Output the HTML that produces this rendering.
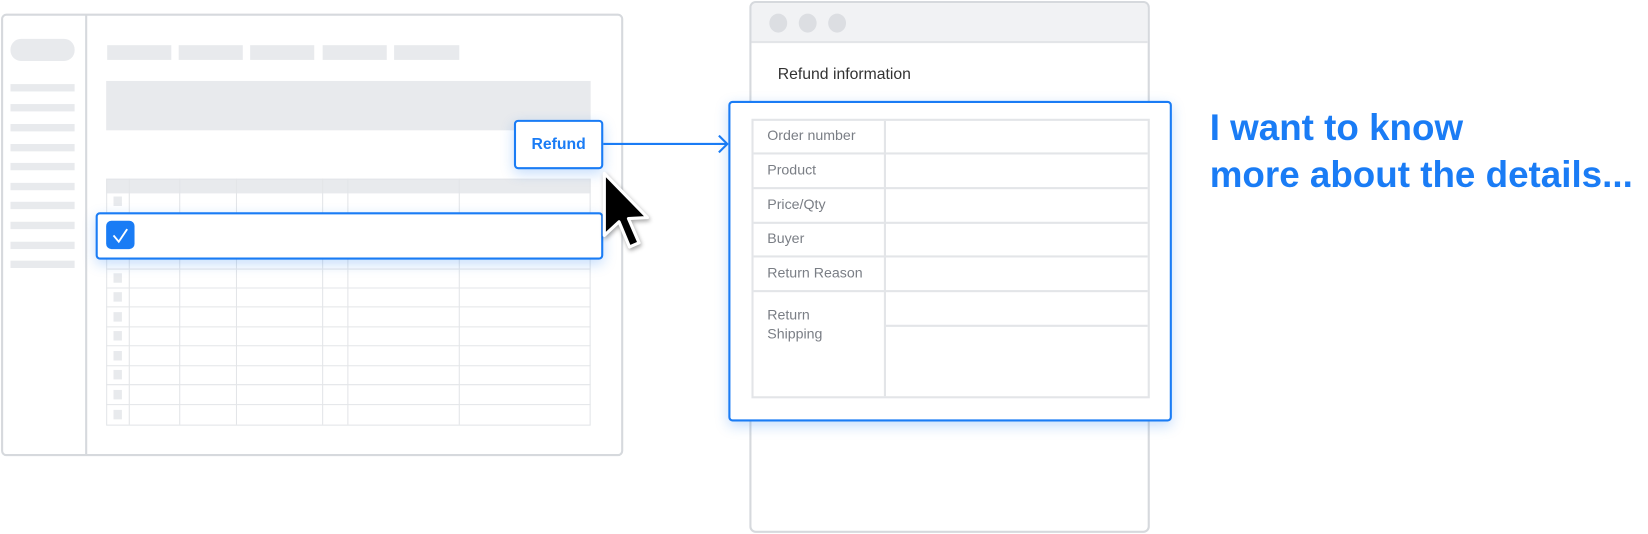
<!DOCTYPE html>
<html><head><style>
html,body{margin:0;padding:0;background:#fff;width:1648px;height:534px;overflow:hidden;font-family:"Liberation Sans",Arial,sans-serif}
#s{position:absolute;left:0;top:0;width:1568px;height:508px;transform:scale(1.051);transform-origin:0 0}
.a{position:absolute;box-sizing:border-box}
.g{background:#e8eaed}
.bl{border:2px solid #1a7cf5;background:#fff;box-shadow:0 4px 12px rgba(26,124,245,0.25)}
.lab{position:absolute;left:13px;font-size:13.5px;color:#7a7e85}
</style></head><body><div id="s">
<div class="a" style="left:1px;top:13px;width:592px;height:421px;border:2px solid #d6d9dd;border-radius:5px"></div>
<div class="a" style="left:81px;top:14px;width:2px;height:419px;background:#d6d9dd"></div>
<div class="a g" style="left:10px;top:37px;width:61px;height:21px;border-radius:10px"></div>
<div class="a g" style="left:10px;top:80px;width:61px;height:7px"></div>
<div class="a g" style="left:10px;top:99px;width:61px;height:7px"></div>
<div class="a g" style="left:10px;top:118px;width:61px;height:7px"></div>
<div class="a g" style="left:10px;top:137px;width:61px;height:7px"></div>
<div class="a g" style="left:10px;top:155px;width:61px;height:7px"></div>
<div class="a g" style="left:10px;top:174px;width:61px;height:7px"></div>
<div class="a g" style="left:10px;top:192px;width:61px;height:7px"></div>
<div class="a g" style="left:10px;top:211px;width:61px;height:7px"></div>
<div class="a g" style="left:10px;top:230px;width:61px;height:7px"></div>
<div class="a g" style="left:10px;top:248px;width:61px;height:7px"></div>
<div class="a g" style="left:102px;top:43px;width:61px;height:14px"></div>
<div class="a g" style="left:170px;top:43px;width:61px;height:14px"></div>
<div class="a g" style="left:238px;top:43px;width:61px;height:14px"></div>
<div class="a g" style="left:307px;top:43px;width:61px;height:14px"></div>
<div class="a g" style="left:375px;top:43px;width:62px;height:14px"></div>
<div class="a g" style="left:101px;top:77px;width:461px;height:47px"></div>
<svg class="a" style="left:0;top:0" width="600" height="440">
<rect x="101" y="170" width="461" height="14" fill="#e8eaed"/>
<rect x="101.5" y="170.5" width="460" height="234" fill="none" stroke="#e3e5e8"/>
<g stroke="#e3e5e8" stroke-width="1">
<line x1="123" y1="170" x2="123" y2="404"/><line x1="171" y1="170" x2="171" y2="404"/>
<line x1="225" y1="170" x2="225" y2="404"/><line x1="307" y1="170" x2="307" y2="404"/>
<line x1="331" y1="170" x2="331" y2="404"/><line x1="437" y1="170" x2="437" y2="404"/>
<line x1="101" y1="203" x2="562" y2="203"/><line x1="101" y1="256" x2="562" y2="256"/>
<line x1="101" y1="274" x2="562" y2="274"/><line x1="101" y1="292" x2="562" y2="292"/>
<line x1="101" y1="311" x2="562" y2="311"/><line x1="101" y1="329" x2="562" y2="329"/>
<line x1="101" y1="348" x2="562" y2="348"/><line x1="101" y1="366" x2="562" y2="366"/>
<line x1="101" y1="385" x2="562" y2="385"/>
</g>
<g fill="#e8eaed">
<rect x="108" y="187" width="8" height="9"/><rect x="108" y="260" width="8" height="9"/>
<rect x="108" y="278" width="8" height="9"/><rect x="108" y="297" width="8" height="9"/>
<rect x="108" y="315" width="8" height="9"/><rect x="108" y="334" width="8" height="9"/>
<rect x="108" y="352" width="8" height="9"/><rect x="108" y="371" width="8" height="9"/>
<rect x="108" y="390" width="8" height="9"/>
</g>
</svg>
<div class="a bl" style="left:91px;top:202px;width:483px;height:45px;border-radius:4px"></div>
<div class="a" style="left:101px;top:210px;width:27px;height:27px;background:#1a7cf5;border-radius:5px"></div>
<svg class="a" style="left:101px;top:210px" width="27" height="27"><path d="M7 14 L12 20 L20 8" fill="none" stroke="#fff" stroke-width="1.8"/></svg>
<div class="a bl" style="left:489px;top:114px;width:85px;height:47px;border-radius:4px;color:#1a7cf5;font-weight:bold;font-size:15px;text-align:center;line-height:43px">Refund</div>
<svg class="a" style="left:0;top:0" width="720" height="260">
<line x1="574" y1="137" x2="691" y2="137" stroke="#1a7cf5" stroke-width="2"/>
<path d="M684 129 L692 137 L684 145" fill="none" stroke="#1a7cf5" stroke-width="2"/>
<g filter="drop-shadow(1px 2px 2px rgba(0,0,0,0.35))">
<path d="M575 165 L575 224 L589 211 L599 235 L608 231 L598 208 L616 207 Z" fill="#000" stroke="#fff" stroke-width="3" stroke-linejoin="round"/>
</g>
</svg>
<div class="a" style="left:713px;top:1px;width:381px;height:506px;border:2px solid #d6d9dd;border-radius:6px;overflow:hidden">
<div class="a" style="left:0;top:0;width:377px;height:38px;background:#f1f2f4;border-bottom:2px solid #e3e5e8"></div>
<div class="a" style="left:17px;top:10px;width:17px;height:18px;border-radius:50%;background:#dcdee2"></div>
<div class="a" style="left:45px;top:10px;width:17px;height:18px;border-radius:50%;background:#dcdee2"></div>
<div class="a" style="left:73px;top:10px;width:17px;height:18px;border-radius:50%;background:#dcdee2"></div>
<div class="a" style="left:25px;top:59px;font-size:15px;color:#333">Refund information</div>
</div>
<div class="a bl" style="left:693px;top:96px;width:422px;height:305px;border-radius:4px"></div>
<div class="a" style="left:715px;top:113px;width:379px;height:266px;border:2px solid #e3e5e8">
<div class="a" style="left:124px;top:0;width:2px;height:262px;background:#e3e5e8"></div>
<div class="a" style="left:0;top:30px;width:375px;height:2px;background:#e3e5e8"></div>
<div class="a" style="left:0;top:63px;width:375px;height:2px;background:#e3e5e8"></div>
<div class="a" style="left:0;top:96px;width:375px;height:2px;background:#e3e5e8"></div>
<div class="a" style="left:0;top:128px;width:375px;height:2px;background:#e3e5e8"></div>
<div class="a" style="left:0;top:161px;width:375px;height:2px;background:#e3e5e8"></div>
<div class="a" style="left:126px;top:194px;width:249px;height:2px;background:#e3e5e8"></div>
<div class="lab" style="top:6px">Order number</div>
<div class="lab" style="top:39px">Product</div>
<div class="lab" style="top:72px">Price/Qty</div>
<div class="lab" style="top:104px">Buyer</div>
<div class="lab" style="top:137px">Return Reason</div>
<div class="lab" style="top:176px;line-height:18px">Return<br>Shipping</div>
</div>
<div class="a" style="left:1151px;top:99px;font-size:35px;font-weight:bold;color:#1a7cf5;line-height:45px;white-space:nowrap">I want to know<br>more about the details...</div>
</div></body></html>
